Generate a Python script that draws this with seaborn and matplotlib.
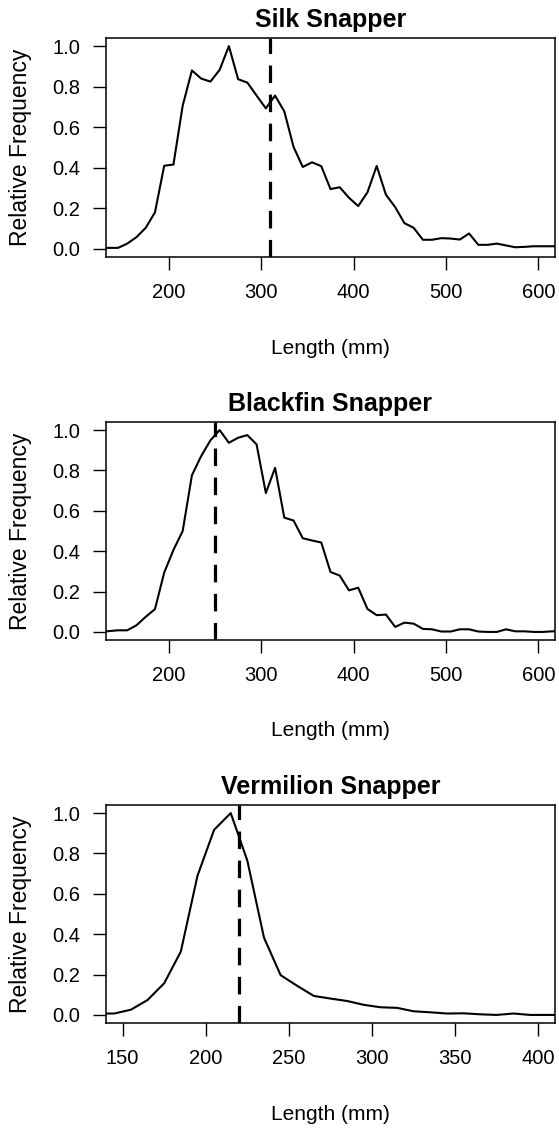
import matplotlib
matplotlib.use("Agg")
import matplotlib.pyplot as plt
import seaborn as sns
import pandas as pd

# ---------------- data ----------------
titles = ["Silk Snapper", "Blackfin Snapper", "Vermilion Snapper"]

silk_length = [125, 135, 145, 155, 165, 175, 185, 195, 205, 215, 225, 235, 245, 255, 265,
               275, 285, 295, 305, 315, 325, 335, 345, 355, 365, 375, 385, 395, 405, 415,
               425, 435, 445, 455, 465, 475, 485, 495, 505, 515, 525, 535, 545, 555, 565,
               575, 585, 595, 605, 615, 625]
silk_freq = [0.005, 0.005, 0.005, 0.026, 0.058, 0.104, 0.18, 0.41, 0.416, 0.706, 0.88,
             0.84, 0.825, 0.883, 1.0, 0.837, 0.82, 0.756, 0.693, 0.756, 0.678, 0.503,
             0.404, 0.427, 0.408, 0.295, 0.304, 0.252, 0.211, 0.279, 0.409, 0.267, 0.206,
             0.127, 0.104, 0.045, 0.045, 0.053, 0.051, 0.046, 0.076, 0.02, 0.02, 0.026,
             0.017, 0.008, 0.01, 0.013, 0.013, 0.013, 0.013]
silk_ref = 310

blackfin_length = [125, 135, 145, 155, 165, 175, 185, 195, 205, 215, 225, 235, 245, 255, 265,
                   275, 285, 295, 305, 315, 325, 335, 345, 355, 365, 375, 385, 395, 405, 415,
                   425, 435, 445, 455, 465, 475, 485, 495, 505, 515, 525, 535, 545, 555, 565,
                   575, 585, 595, 605, 615, 625]
blackfin_freq = [0.0, 0.004, 0.008, 0.008, 0.033, 0.075, 0.113, 0.294, 0.406, 0.5, 0.776,
                 0.871, 0.949, 1.0, 0.937, 0.962, 0.975, 0.929, 0.688, 0.813, 0.566, 0.552,
                 0.464, 0.453, 0.443, 0.297, 0.279, 0.206, 0.219, 0.114, 0.083, 0.086, 0.025,
                 0.046, 0.041, 0.015, 0.013, 0.002, 0.002, 0.013, 0.013, 0.002, 0.0, 0.0,
                 0.013, 0.003, 0.003, 0.0, 0.0, 0.003, 0.003]
blackfin_ref = 250

vermilion_length = [135, 145, 155, 165, 175, 185, 195, 205, 215, 225, 235, 245, 255, 265,
                    275, 285, 295, 305, 315, 325, 335, 345, 355, 365, 375, 385, 395, 405, 415]
vermilion_freq = [0.007, 0.007, 0.026, 0.074, 0.157, 0.314, 0.689, 0.917, 1.0, 0.764, 0.383,
                  0.197, 0.144, 0.094, 0.081, 0.069, 0.05, 0.038, 0.035, 0.018, 0.013, 0.007,
                  0.008, 0.003, 0.0, 0.007, 0.0, 0.0, 0.0]
vermilion_ref = 220

xticks_wide = [200, 300, 400, 500, 600]
xticks_narrow = [150, 200, 250, 300, 350, 400]
yticks = [0.0, 0.2, 0.4, 0.6, 0.8, 1.0]
xlabel = "Length (mm)"
ylabel = "Relative Frequency"

# ---------------- style ----------------
sns.set_theme(style="ticks")
plt.rcParams["font.family"] = ["Liberation Sans", "DejaVu Sans"]

W, H = 559, 1129
fig = plt.figure(figsize=(W / 100, H / 100), dpi=100)
fig.patch.set_facecolor("white")

panels = [
    (silk_length, silk_freq, silk_ref, xticks_wide, (132, 618), 38, 257),
    (blackfin_length, blackfin_freq, blackfin_ref, xticks_wide, (132, 618), 422, 640),
    (vermilion_length, vermilion_freq, vermilion_ref, xticks_narrow, (140, 410), 805, 1023),
]

left_px, right_px = 106, 555
for title, (xs, ys, ref, xt, xlim, top_px, bot_px) in zip(titles, panels):
    ax = fig.add_axes([left_px / W, (H - bot_px) / H,
                       (right_px - left_px) / W, (bot_px - top_px) / H])
    df = pd.DataFrame({"length": xs, "freq": ys})
    sns.lineplot(data=df, x="length", y="freq", ax=ax, color="black",
                 linewidth=1.5, estimator=None, sort=False)
    ax.axvline(ref, color="black", linewidth=2.3, dashes=(5.5, 3.6))
    ax.set_xlim(*xlim)
    ax.set_ylim(-0.04, 1.04)
    ax.set_xticks(xt)
    ax.set_xticklabels([str(v) for v in xt])
    ax.set_yticks(yticks)
    ax.set_yticklabels([f"{v:.1f}" for v in yticks])
    ax.tick_params(axis="both", length=9.5, width=1.0, color="black",
                   labelsize=14.5, pad=9, labelcolor="black")
    for s in ax.spines.values():
        s.set_visible(True)
        s.set_linewidth(1.1)
        s.set_color("black")
    ax.set_facecolor("white")
    ax.grid(False)
    ax.set_title(title, fontsize=18, fontweight="bold", pad=8, color="black")
    ax.set_xlabel(xlabel, fontsize=15, color="black")
    ax.set_ylabel(ylabel, fontsize=16.5, color="black")
    hgt = bot_px - top_px
    ax.xaxis.set_label_coords(0.5, -91 / hgt)
    ax.xaxis.label.set_va("center")
    ax.yaxis.set_label_coords(-85 / (right_px - left_px), 0.5)
    ax.yaxis.label.set_va("center")

fig.savefig("out.png", dpi=100, facecolor="white")
